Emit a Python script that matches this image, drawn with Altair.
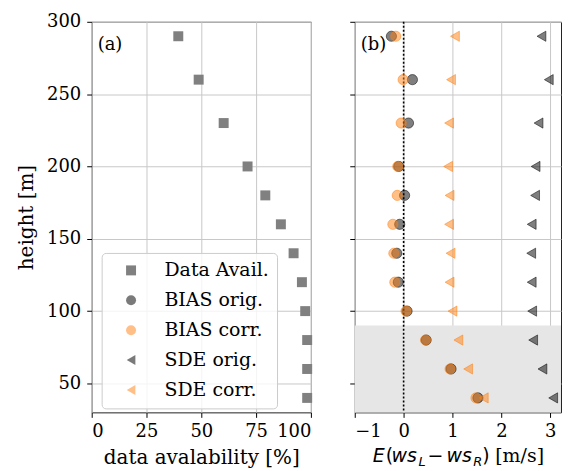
import altair as alt
import pandas as pd

heights = [290, 260, 230, 200, 180, 160, 140, 120, 100, 80, 60, 40]
avail = [39.5, 48.8, 60.2, 71.1, 79.2, 86.3, 92.1, 95.9, 97.4, 98.3, 98.3, 98.3]
bias_orig = [-0.25, 0.18, 0.10, -0.10, 0.02, -0.08, -0.14, -0.11, 0.07, 0.46, 0.97, 1.52]
bias_corr = [-0.16, -0.01, -0.05, -0.12, -0.13, -0.22, -0.20, -0.18, 0.05, 0.45, 0.95, 1.48]
sde_orig = [2.82, 2.97, 2.76, 2.70, 2.69, 2.62, 2.61, 2.62, 2.63, 2.65, 2.84, 3.06]
sde_corr = [1.05, 0.97, 0.93, 0.91, 0.94, 0.93, 0.96, 0.94, 1.00, 1.12, 1.32, 1.64]

series_names = ["Data Avail.", "BIAS orig.", "BIAS corr.", "SDE orig.", "SDE corr."]
series_colors = ["#808080", "#000000", "#ff7f0e", "#000000", "#ff7f0e"]
legend_colors = ["#808080", "#7a7a7a", "#ffbf87", "#7a7a7a", "#ffbf87"]
series_shapes = ["square", "circle", "circle", "triangle-left", "triangle-left"]

shade_low, shade_high = 30, 90
y_ticks = [50, 100, 150, 200, 250, 300]
x_ticks_left = [0, 25, 50, 75, 100]
x_ticks_right = [-1, 0, 1, 2, 3]

SERIF = "DejaVu Serif"
SANS = "DejaVu Sans"
W_L, W_R, H = 220, 207, 392

left_df = pd.DataFrame({"height": heights, "value": avail, "series": "Data Avail."})
right_df = pd.concat([
    pd.DataFrame({"height": heights, "value": v, "series": s})
    for s, v in [("BIAS orig.", bias_orig), ("BIAS corr.", bias_corr),
                 ("SDE orig.", sde_orig), ("SDE corr.", sde_corr)]
], ignore_index=True)

y_scale = alt.Scale(domain=[30, 300], nice=False, zero=False)

left_pts = alt.Chart(left_df).mark_point(filled=True, size=100, opacity=1).encode(
    x=alt.X("value:Q", scale=alt.Scale(domain=[0, 100], nice=False),
            axis=alt.Axis(values=x_ticks_left, format="d", title="data avalability [%]",
                          titlePadding=7, labelPadding=5)),
    y=alt.Y("height:Q", scale=y_scale,
            axis=alt.Axis(values=y_ticks, format="d", title="height [m]", titlePadding=10,
                          labelPadding=6)),
    color=alt.Color("series:N", scale=alt.Scale(domain=series_names, range=legend_colors),
                    legend=alt.Legend(title=None, orient="none", legendX=10, legendY=232,
                                      padding=8, symbolOffset=12, labelOffset=24,
                                      rowPadding=10, fillColor="rgba(255,255,255,0.8)",
                                      strokeColor="#cccccc", cornerRadius=4,
                                      labelFont=SERIF, labelFontSize=19, labelColor="black",
                                      symbolSize=100, labelLimit=300)),
    shape=alt.Shape("series:N", scale=alt.Scale(domain=series_names, range=series_shapes)),
)
left_lbl = alt.Chart(pd.DataFrame({"t": ["(a)"]})).mark_text(
    font=SERIF, fontSize=18, align="left", baseline="middle", color="black"
).encode(x=alt.value(6), y=alt.value(23), text="t:N")

left = alt.layer(left_pts, left_lbl).properties(width=W_L, height=H)

x_scale_r = alt.Scale(domain=[-1, 3.22], nice=False, zero=False)

shade = alt.Chart(pd.DataFrame({"lo": [shade_low], "hi": [shade_high]})).mark_rect(
    color="#e6e6e6"
).encode(y=alt.Y("lo:Q", scale=y_scale), y2="hi:Q", x=alt.value(0), x2=alt.value(W_R))

zero_line = alt.Chart(pd.DataFrame({"z": [0]})).mark_rule(
    color="black", strokeDash=[2, 2], strokeWidth=1.6
).encode(x=alt.X("z:Q", scale=x_scale_r))

right_pts = alt.Chart(right_df).mark_point(
    filled=True, size=105, fillOpacity=0.5, strokeOpacity=0.5, strokeWidth=1
).encode(
    x=alt.X("value:Q", scale=x_scale_r,
            axis=alt.Axis(values=x_ticks_right, format="d", title=None,
                          labelPadding=5, labelOverlap=False)),
    y=alt.Y("height:Q", scale=y_scale,
            axis=alt.Axis(values=y_ticks, labels=False, title=None)),
    color=alt.Color("series:N", scale=alt.Scale(domain=series_names, range=series_colors), legend=None),
    stroke=alt.Stroke("series:N", scale=alt.Scale(domain=series_names, range=series_colors), legend=None),
    shape=alt.Shape("series:N", scale=alt.Scale(domain=series_names, range=series_shapes), legend=None),
)
right_lbl = alt.Chart(pd.DataFrame({"t": ["(b)"]})).mark_text(
    font=SERIF, fontSize=18, align="left", baseline="middle", color="black"
).encode(x=alt.value(6), y=alt.value(23), text="t:N")

# composed x-axis title: E(ws_L - ws_R) [m/s]
base_y = H + 50
pieces = [
    ("E", 18, SANS, "italic", 19, 0),
    ("(", 31, SANS, "normal", 19, 0),
    ("ws", 37, SANS, "italic", 19, 0),
    ("L", 64, SANS, "italic", 13, 4),
    ("\u2212", 73, SANS, "normal", 19, 0),
    ("ws", 92, SANS, "italic", 19, 0),
    ("R", 119, SANS, "italic", 13, 4),
    (")", 128, SANS, "normal", 19, 0),
    ("[m/s]", 141, SERIF, "normal", 19, 0),
]
title_layers = []
for txt, px, fnt, sty, fs, dy in pieces:
    title_layers.append(
        alt.Chart(pd.DataFrame({"t": [txt]})).mark_text(
            font=fnt, fontStyle=sty, fontSize=fs, align="left",
            baseline="alphabetic", color="black"
        ).encode(x=alt.value(px), y=alt.value(base_y + dy), text="t:N")
    )

right = alt.layer(shade, zero_line, right_pts, right_lbl, *title_layers).properties(
    width=W_R, height=H)

chart = alt.hconcat(left, right, spacing=44, bounds="flush").resolve_scale(
    color="independent", shape="independent", stroke="independent"
).configure_view(stroke="#222222", strokeWidth=1).configure_axis(
    labelFont=SERIF, labelFontSize=18, labelColor="black",
    titleFont=SERIF, titleFontSize=20, titleFontWeight="normal", titleColor="black",
    domain=False, tickColor="black", tickSize=5, labelPadding=3,
    gridColor="#c8c8c8", gridWidth=1,
).properties(padding={"left": 8, "top": 3, "right": 0, "bottom": 0})

chart.save("out.html", embed_options={"renderer": "svg", "actions": False})
